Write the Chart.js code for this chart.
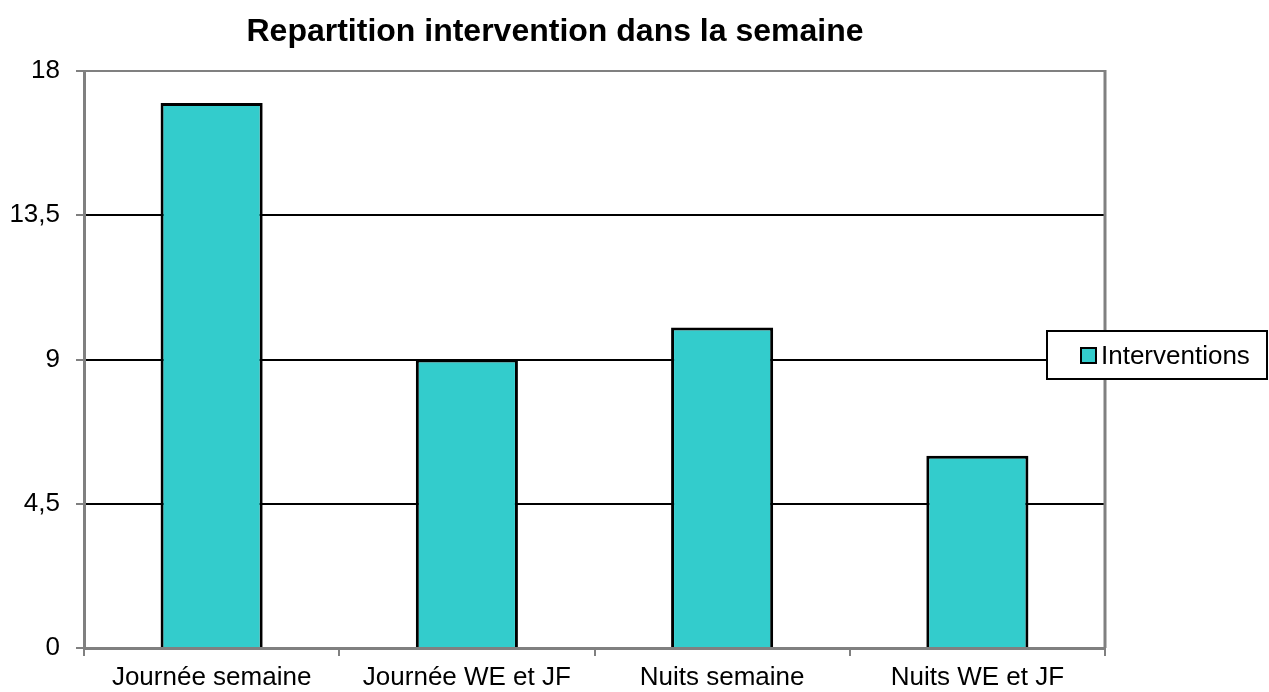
<!DOCTYPE html>
<html>
<head>
<meta charset="utf-8">
<script src="https://cdn.jsdelivr.net/npm/chart.js@4"></script>
<style>
  html, body { margin: 0; padding: 0; background: #fff; }
  #wrap { width: 1269px; height: 692px; }
</style>
</head>
<body>
<div id="wrap"><canvas id="graficoSemaine"></canvas></div>
<script>
// Dados do gráfico
const titulo = 'Repartition intervention dans la semaine';
const categorias = ['Journée semaine', 'Journée WE et JF', 'Nuits semaine', 'Nuits WE et JF'];
const nomeSerie = 'Interventions';
const valores = [17, 9, 10, 6];
const eixoMin = 0;
const eixoMax = 18;
const eixoPasso = 4.5;

const corBarra = '#33CCCC';
const cinza = '#808080';

// título, moldura e legenda desenhados à mão
const pluginMoldura = {
    id: 'moldura',
    beforeDatasetsDraw(chart) {
        const ctx = chart.ctx;
        const a = chart.chartArea;
        ctx.save();
        ctx.strokeStyle = cinza;
        ctx.lineWidth = 3;
        ctx.beginPath();
        ctx.moveTo(a.right, a.top - 1);
        ctx.lineTo(a.right, a.bottom);
        ctx.stroke();
        ctx.restore();
    },
    afterDraw(chart) {
        const ctx = chart.ctx;
        ctx.save();
        // título
        ctx.fillStyle = '#000';
        ctx.font = 'bold 32px "Liberation Sans", Arial, sans-serif';
        ctx.textAlign = 'center';
        ctx.textBaseline = 'alphabetic';
        ctx.fillText(titulo, 555, 41);

        // legenda
        const ds = chart.data.datasets[0];
        ctx.fillStyle = '#fff';
        ctx.fillRect(1047, 331, 220, 48);
        ctx.strokeStyle = '#000';
        ctx.lineWidth = 2;
        ctx.strokeRect(1047, 331, 220, 48);
        ctx.fillStyle = ds.backgroundColor;
        ctx.fillRect(1081, 348, 15, 15);
        ctx.strokeRect(1081, 348, 15, 15);
        ctx.fillStyle = '#000';
        ctx.font = '26px "Liberation Sans", Arial, sans-serif';
        ctx.textAlign = 'left';
        ctx.fillText(ds.label, 1101, 364);
        ctx.restore();
    }
};

const config = {
    type: 'bar',
    data: {
        labels: categorias,
        datasets: [{
            label: nomeSerie,
            data: valores,
            backgroundColor: corBarra,
            borderColor: '#000',
            borderWidth: 3,
            borderSkipped: 'bottom',
            barPercentage: 0.4,
            categoryPercentage: 1.0
        }]
    },
    options: {
        responsive: true,
        maintainAspectRatio: false,
        animation: false,
        layout: { padding: { top: 71, right: 164, bottom: 0, left: 0 } },
        plugins: {
            legend: { display: false },
            title: { display: false },
            tooltip: { enabled: false }
        },
        scales: {
            x: {
                grid: {
                    offset: true,
                    drawOnChartArea: false,
                    color: cinza,
                    lineWidth: 2,
                    tickLength: 8
                },
                border: { color: cinza, width: 3 },
                ticks: {
                    color: '#000',
                    font: { family: '"Liberation Sans", Arial, sans-serif', size: 26 },
                    padding: 6,
                    maxRotation: 0
                },
                afterFit(s) { s.height = 44; }
            },
            y: {
                min: eixoMin,
                max: eixoMax,
                ticks: {
                    stepSize: eixoPasso,
                    color: '#000',
                    font: { family: '"Liberation Sans", Arial, sans-serif', size: 26 },
                    padding: 16,
                    callback: v => String(v).replace('.', ',')
                },
                grid: {
                    color: c => (c.tick && c.tick.value === eixoMax) ? cinza : '#000',
                    tickColor: cinza,
                    lineWidth: 2,
                    tickLength: 8
                },
                border: { color: cinza, width: 3 },
                afterFit(s) { s.width = 84; }
            }
        }
    },
    plugins: [pluginMoldura]
};

new Chart(document.getElementById('graficoSemaine'), config);
</script>
</body>
</html>
